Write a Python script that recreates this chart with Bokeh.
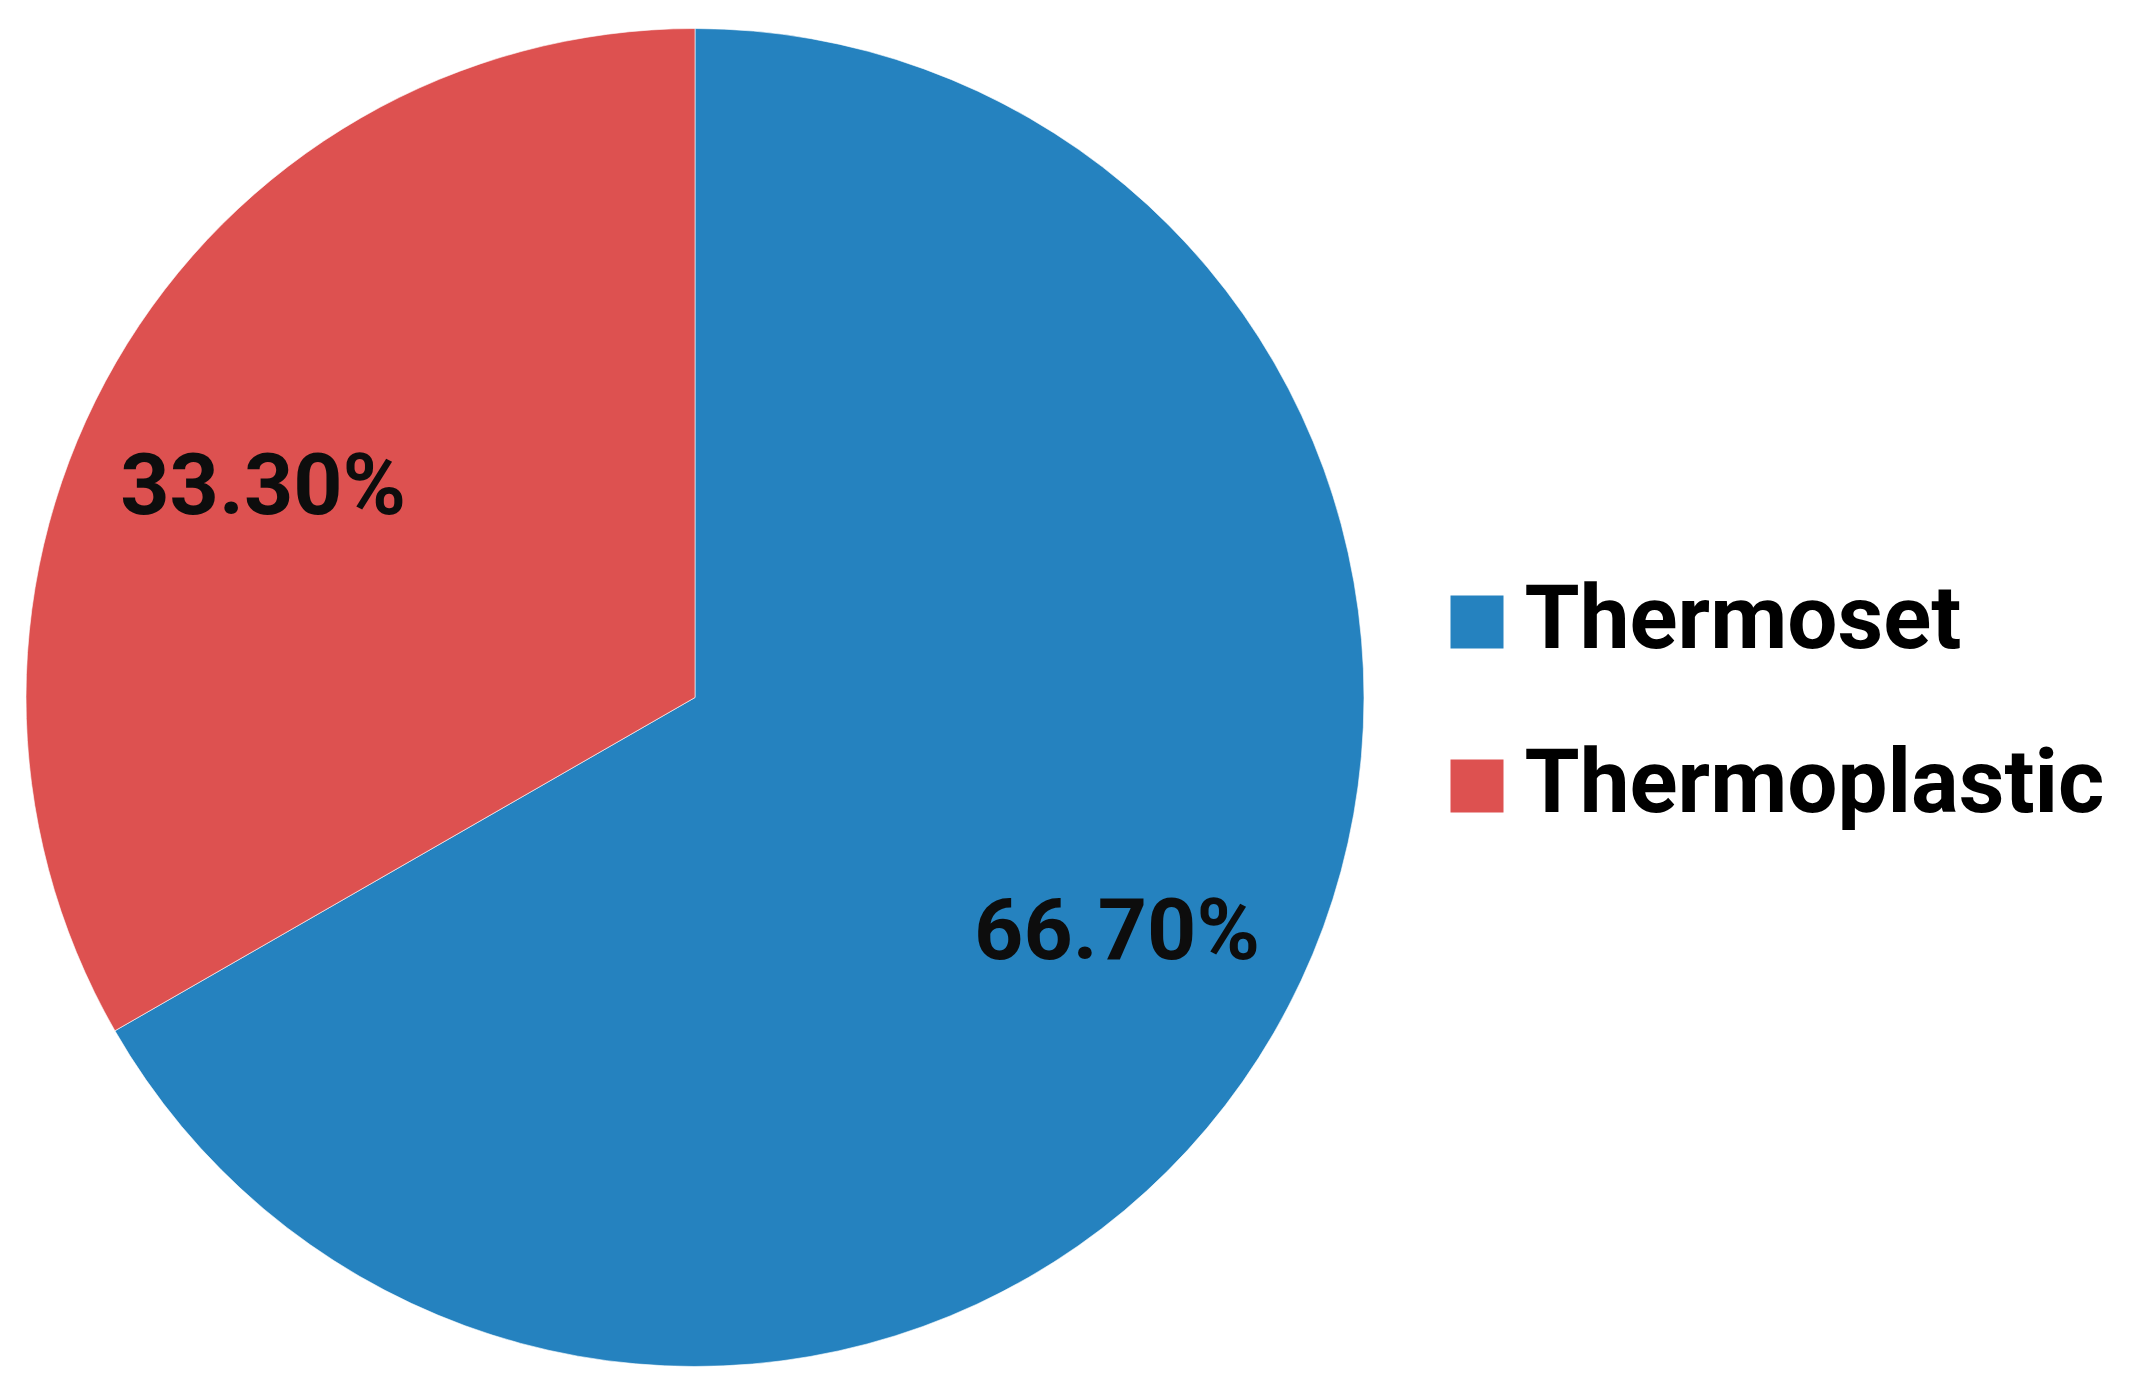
import math
from bokeh.plotting import figure
from bokeh.models import Range1d, ColumnDataSource
from bokeh.core.properties import value
from bokeh.embed import file_html
from bokeh.resources import INLINE

categories = ["Thermoset", "Thermoplastic"]
shares = [66.7, 33.3]
labels = ["66.70%", "33.30%"]
colors = ["#2582BF", "#DD5150"]

W, H = 2117, 1381
p = figure(width=W, height=H, output_backend="svg", toolbar_location=None,
           x_range=Range1d(0, W), y_range=Range1d(0, H), min_border=0)
p.axis.visible = False
p.grid.visible = False
p.outline_line_color = None
p.background_fill_color = "white"

cx, cy, r = 694.5, 1381 - 697, 669
label_frac = 0.72
label_shift_deg = [1.25, 3.75]
total = sum(shares)
starts, ends, lx, ly = [], [], [], []
a = math.pi / 2
for s, sh in zip(shares, label_shift_deg):
    sweep = 2 * math.pi * s / total
    starts.append(a - sweep)
    ends.append(a)
    mid = a - sweep / 2 + math.radians(sh)
    lx.append(cx + label_frac * r * math.cos(mid))
    ly.append(cy + label_frac * r * math.sin(mid))
    a -= sweep

src = ColumnDataSource(dict(start=starts, end=ends, color=colors, lx=lx, ly=ly, label=labels, cat=categories))
p.wedge(x=cx, y=cy, radius=r, start_angle="start", end_angle="end", fill_color="color",
        line_color="white", line_alpha=0.6, line_width=1, source=src)
p.text(x="lx", y="ly", text="label", source=src, text_align="center", text_baseline="middle",
       text_font=value("Roboto"), text_font_style="bold", text_font_size="86px", text_color="#0d0d0d")

# legend
sq_y = [759.5, 595.5]
txt_y = [764.5, 600]
src2 = ColumnDataSource(dict(y=sq_y, ty=txt_y, cat=categories, color=colors))
p.rect(x=1476.5, y="y", width=53, height=53, fill_color="color", line_color=None, source=src2)
p.text(x=1524, y="ty", text="cat", source=src2, text_align="left", text_baseline="middle",
       text_font=value("Roboto"), text_font_style="bold", text_font_size="89px", text_color="black")

open("out.html", "w").write(file_html(p, INLINE))
